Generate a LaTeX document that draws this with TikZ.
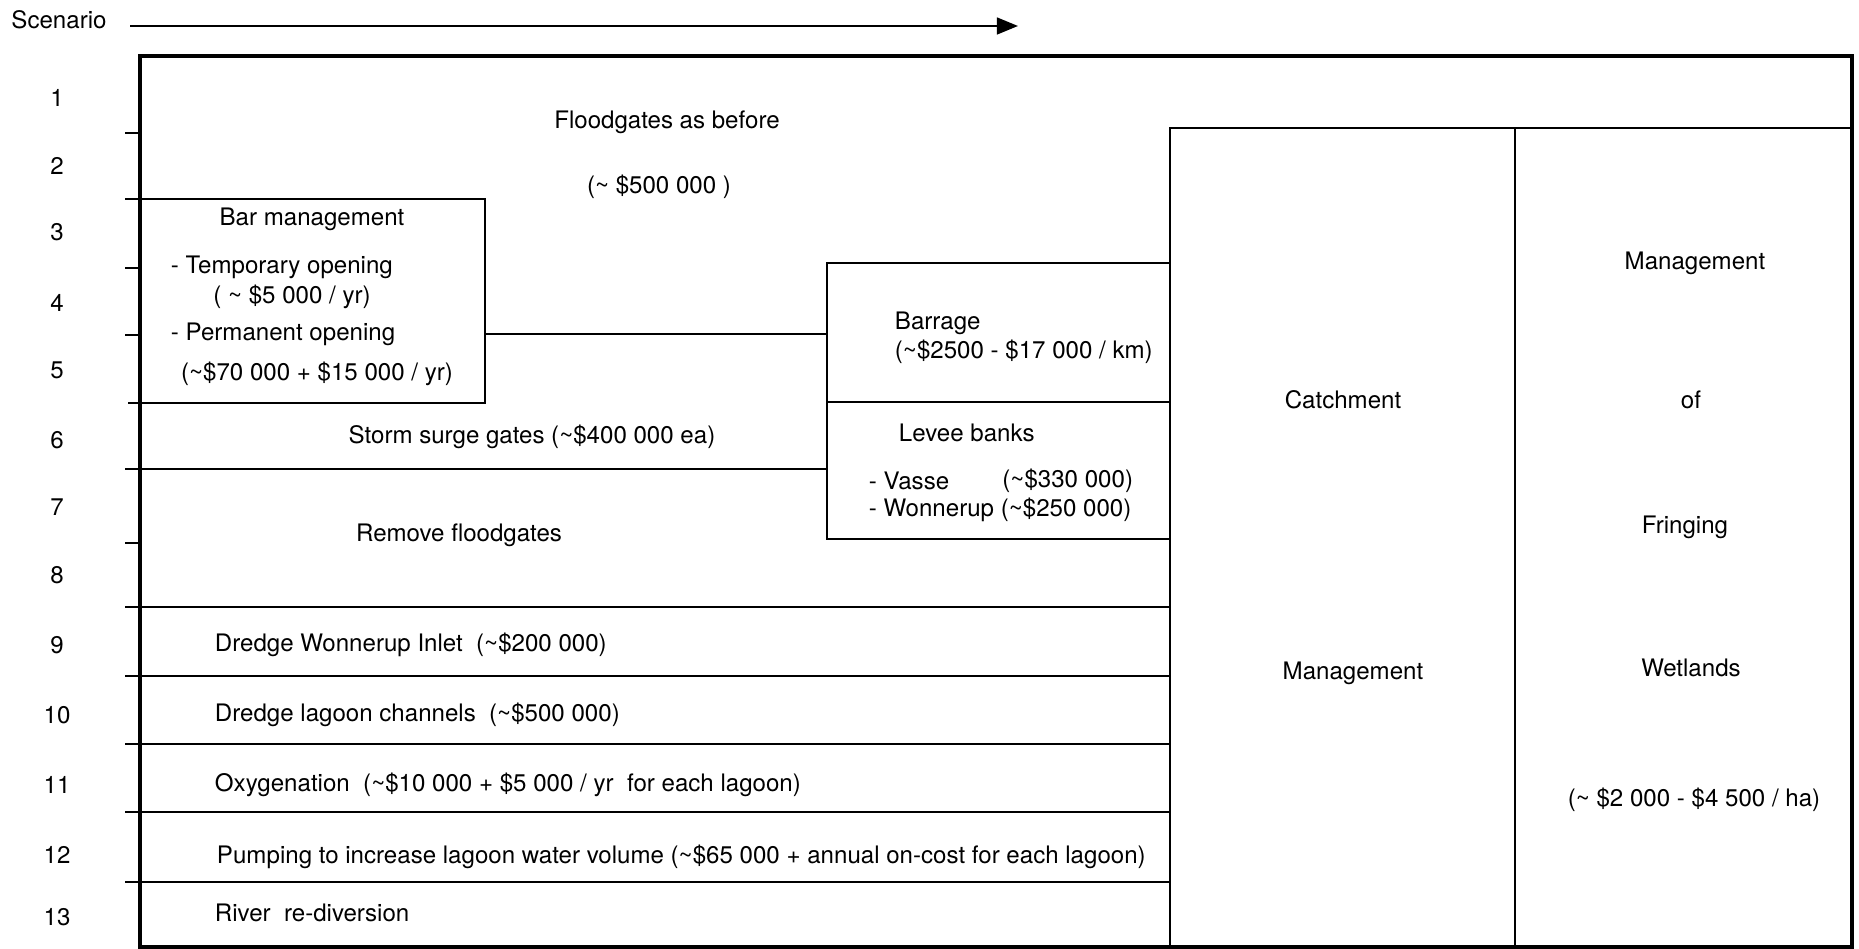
\documentclass[tikz,border=0pt]{standalone}
\usepackage{fontspec}
\setmainfont{TeX Gyre Heros}
\usetikzlibrary{arrows.meta}
\newcommand{\tld}{\textasciitilde}
\begin{document}
\begin{tikzpicture}[x=0.01cm,y=-0.01cm,line width=0.55pt,
	txt/.style={font=\fontsize{6.85}{8.2}\selectfont,inner sep=0pt},
	txtl/.style={txt,anchor=west}]
\useasboundingbox (0,0) rectangle (1859,949);
\node[txt] (scen) at (59,20) {Scenario};
\coordinate (arrow-s) at (130,26);
\coordinate (arrow-e) at (1018,26);
\draw[-{Triangle[length=6pt,width=4.8pt]}] (arrow-s)--(arrow-e);
% frame and right columns
\draw[line width=0.9pt] (140,56) rectangle (1852,947);
\draw (1170,947)--(1170,128)--(1852,128);
\draw (1515,128)--(1515,947);
% bar management box
\draw (125,199)--(485,199)--(485,403)--(128,403);
% barrage and levee boxes
\draw (827,263) rectangle (1170,539);
\draw (827,402)--(1170,402);
\coordinate (bar-e) at (485,334);
\coordinate (barrage-w) at (827,334);
\draw (bar-e)--(barrage-w);
\draw (125,469)--(827,469);
\foreach \y in {607,676,744,812,882}
	\draw (125,\y)--(1170,\y);
\foreach \y in {133,268,335,543}
	\draw (125,\y)--(140,\y);
% scenario numbers
\foreach \n/\y in {1/98,2/166,3/232,4/303,5/370,6/440,7/507,8/575,9/645,10/715,11/785,12/855,13/917}
	\node[txt] (row\n) at (57,\y) {\n};
% left part
\node[txt] (flood) at (667,122) {Floodgates as before};
\node[txt] (floodcost) at (659,187) {(\tld\ \$500 000 )};
\node[txt] (barhead) at (312,219) {Bar management};
\node[txtl] (bartemp) at (170,267) {- Temporary opening};
\node[txt] (bartempcost) at (292,297) {( \tld\ \$5 000 / yr)};
\node[txtl] (barperm) at (170,334) {- Permanent opening};
\node[txt] (barpermcost) at (317,374) {(\tld\$70 000 + \$15 000 / yr)};
\node[txt] (storm) at (532,437) {Storm surge gates (\tld\$400 000 ea)};
\node[txt] (remove) at (459,535) {Remove floodgates};
\node[txtl] (barrage) at (894,323) {Barrage};
\node[txtl] (barragecost) at (894,352) {(\tld\$2500 - \$17 000 / km)};
\node[txtl] (levee) at (898,433) {Levee banks};
\node[txtl] (vasse) at (868,481) {- Vasse};
\node[txt,anchor=east] (vassecost) at (1134,481) {(\tld\$330 000)};
\node[txtl] (wonnerup) at (868,510) {- Wonnerup (\tld\$250 000)};
\node[txtl] (dredgeinlet) at (214,645) {Dredge Wonnerup Inlet\ \ (\tld\$200 000)};
\node[txtl] (dredgechan) at (214,715) {Dredge lagoon channels\ \ (\tld\$500 000)};
\node[txtl] (oxy) at (214,785) {Oxygenation\ \ (\tld\$10 000 + \$5 000 / yr\ \ for each lagoon)};
\node[txtl] (pump) at (216,857) {Pumping to increase lagoon water volume (\tld\$65 000 + annual on-cost for each lagoon)};
\node[txtl] (river) at (214,913) {River\ \ re-diversion};
% right columns
\node[txt] (catch) at (1343,400) {Catchment};
\node[txt] (catchmgmt) at (1353,673) {Management};
\node[txt] (mgmt) at (1695,263) {Management};
\node[txt] (of) at (1691,400) {of};
\node[txt] (fringing) at (1685,527) {Fringing};
\node[txt] (wetlands) at (1691,668) {Wetlands};
\node[txt] (wetcost) at (1694,800) {(\tld\ \$2 000 - \$4 500 / ha)};
\end{tikzpicture}
\end{document}
